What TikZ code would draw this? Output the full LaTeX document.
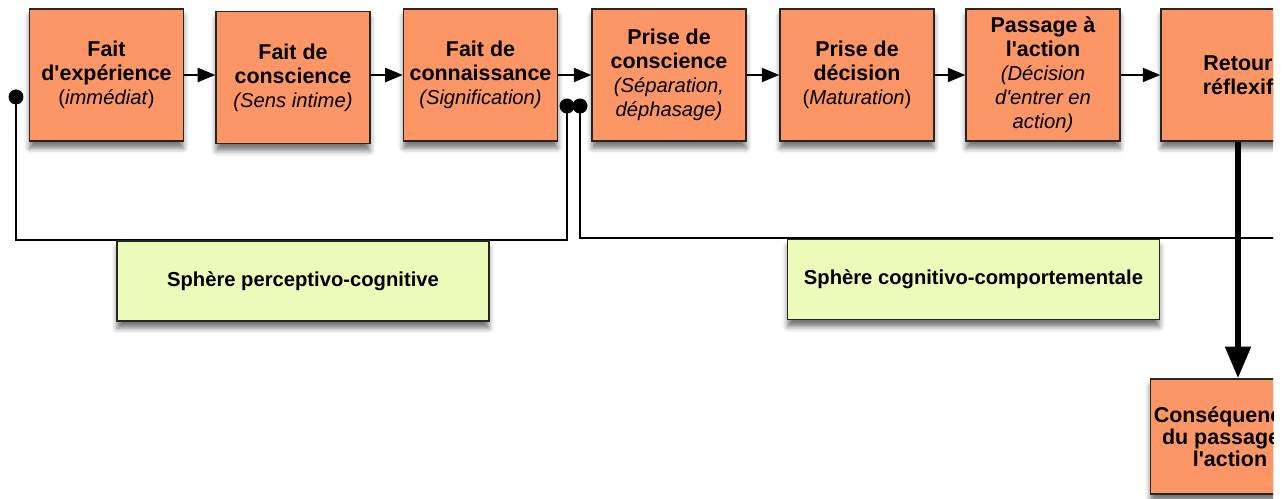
\documentclass[tikz,border=0pt]{standalone}
\usepackage{fontspec}
\setmainfont{Liberation Sans}
\usetikzlibrary{
    arrows.meta,
    shadows.blur,
    positioning
}
\definecolor{orangebloc}{RGB}{252,150,102}
\definecolor{vertbloc}{RGB}{236,250,186}
\tikzset{etape/.style={draw=black!85, line width=0.8pt, fill=orangebloc, minimum width=3.08cm, minimum height=2.64cm, inner sep=2pt, align=center, font=\bfseries\fontsize{12.2}{13.6}\selectfont, blur shadow={shadow xshift=0pt, shadow yshift=-4pt, shadow blur radius=3pt, shadow opacity=55}}}
\tikzset{sphere/.style={draw=black!85, line width=0.8pt, fill=vertbloc, minimum width=7.44cm, minimum height=1.6cm, font=\bfseries\fontsize{11.5}{13}\selectfont, blur shadow={shadow xshift=0pt, shadow yshift=-4pt, shadow blur radius=3pt, shadow opacity=55}}}
\tikzset{fleche/.style={line width=1.2pt, -{Triangle[length=10pt,width=8pt]}}}
\tikzset{grossefleche/.style={line width=3.4pt, -{Triangle[length=18pt,width=14pt]}}}
\tikzset{boucle/.style={line width=1.3pt}}
\tikzset{pt/.style={circle, fill=black, inner sep=0pt, minimum size=0.3cm}}
\newcommand{\note}[1]{{\fontsize{11.5}{13.6}\selectfont\mdseries #1}}
\newcommand{\ap}{\textquotesingle}

\begin{document}
\begin{tikzpicture}[x=0.02cm, y=-0.02cm]
    \useasboundingbox (0, 0) rectangle (1287, 499);
    \clip (0, 0) rectangle (1273, 499);

    % spheres (brackets)
    \node[pt] (p1) at (16, 97) {};
    \node[pt] (p2) at (567, 106) {};
    \node[pt] (p3) at (580, 106) {};
    \coordinate (fin) at (1300, 238);
    \draw[boucle] (p1.center) |- (567, 240) -- (p2.center);
    \draw[boucle] (p3.center) |- (fin);

    \node[sphere] (spc) at (303, 281) {Sphère perceptivo-cognitive};
    \node[sphere] (scc) at (973.5, 279.5) {Sphère cognitivo-comportementale};

    % etapes
    \node[etape] (exp) at (106.5, 75) {Fait\\d\ap expérience\\\note{(\textit{immédiat})}};
    \node[etape] (consc) at (293, 77.5) {Fait de\\conscience\\\note{\textit{(Sens intime)}}};
    \node[etape] (conn) at (480.5, 75) {Fait de\\connaissance\\\note{\textit{(Signification)}}};
    \node[etape] (prise) at (669, 75) {Prise de\\conscience\\\note{\textit{(Séparation,}}\\\note{\textit{déphasage)}}};
    \node[etape] (decis) at (857, 75) {Prise de\\décision\\\note{(\textit{Maturation})}};
    \node[etape] (pass) at (1043, 75) {Passage à\\l\ap action\\\note{\textit{(Décision}}\\\note{\textit{d\ap entrer en}}\\\note{\textit{action)}}};
    \node[etape] (retour) at (1238, 75) {Retour\\réflexif};
    \node[etape, minimum height=2.3cm, font=\bfseries\fontsize{12.2}{12.5}\selectfont] (consq) at (1230, 436.5) {Conséquences\\du passage à\\l\ap action};

    \draw[fleche] (exp.east) -- (exp.east -| consc.west);
    \draw[fleche] (consc.east |- exp.east) -- (conn.west);
    \draw[fleche] (conn) -- (prise);
    \draw[fleche] (prise) -- (decis);
    \draw[fleche] (decis) -- (pass);
    \draw[fleche] (pass) -- (retour);
    \draw[grossefleche] (retour.south) -- (retour.south |- consq.north);
\end{tikzpicture}
\end{document}
